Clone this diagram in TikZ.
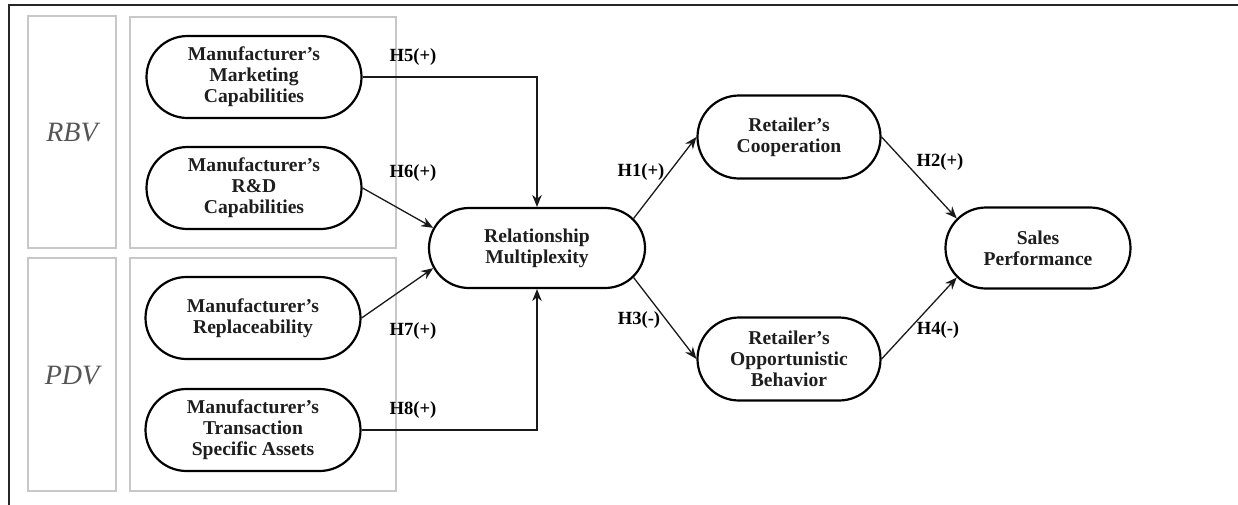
\documentclass[tikz,border=0pt]{standalone}
\usepackage{fontspec}
\setmainfont{Liberation Serif}
\usetikzlibrary{shapes.misc,arrows.meta}
\definecolor{boxgray}{RGB}{200,200,200}
\definecolor{txtgray}{RGB}{85,85,85}
\definecolor{nodetxt}{RGB}{30,30,30}
\begin{document}
\begin{tikzpicture}[x=0.5pt,y=-0.5pt,
  construct/.style={draw=black, line width=1.1pt, rounded rectangle, align=center,
    font=\fontsize{9.8}{10.5}\selectfont\bfseries, text=nodetxt, inner sep=0pt},
  leftc/.style={construct, minimum width=107.5pt, minimum height=41pt},
  groupbox/.style={draw=boxgray, line width=0.8pt},
  viewlbl/.style={font=\fontsize{14}{16}\selectfont\itshape, text=txtgray},
  hlbl/.style={font=\fontsize{9.3}{10}\selectfont\bfseries, text=black, inner sep=0pt},
  arr/.style={draw=black!90, line width=0.65pt, -{Stealth[length=6pt,width=4.8pt]}}]
\useasboundingbox (0,0) rectangle (1238,504);
% outer frame (top and left edges visible)
\draw[line width=1pt, black!85] (9,506) -- (9,5) -- (1240,5);
% view boxes
\draw[groupbox] (28,16) rectangle (116,248);
\draw[groupbox] (130,17) rectangle (396,248);
\draw[groupbox] (28,258) rectangle (116,491);
\draw[groupbox] (130,258) rectangle (396,491);
\node[viewlbl] (rbv) at (72,133) {RBV};
\node[viewlbl] (pdv) at (72,376) {PDV};
% constructs
\node[leftc] (mk) at (254,77) {Manufacturer's\\Marketing\\Capabilities};
\node[leftc] (rd) at (254,188) {Manufacturer's\\R\&D\\Capabilities};
\node[leftc] (rp) at (253,318) {Manufacturer's\\Replaceability};
\node[leftc] (tr) at (253,430) {Manufacturer's\\Transaction\\Specific Assets};
\node[construct, minimum width=108pt, minimum height=40pt] (rm) at (537,248) {Relationship\\Multiplexity};
\node[construct, minimum width=91.5pt, minimum height=41.5pt] (co) at (789,137) {Retailer's\\Cooperation};
\node[construct, minimum width=91.5pt, minimum height=41.5pt] (op) at (789,359) {Retailer's\\Opportunistic\\Behavior};
\node[construct, minimum width=92.5pt, minimum height=40.5pt] (sa) at (1038,248) {Sales\\Performance};
% connectors
\draw[arr] (mk.east) -| (rm.north);
\draw[arr] (rd.east) -- (rm.169);
\draw[arr] (rp.east) -- (rm.191);
\draw[arr] (tr.east) -| (rm.south);
\draw[arr] (rm.17) -- (co.west);
\draw[arr] (rm.343) -- (op.west);
\draw[arr] (co.east) -- (sa.160);
\draw[arr] (op.east) -- (sa.200);
% labels
\node[hlbl] (h5) at (413,57) {H5(+)};
\node[hlbl] (h6) at (413,173) {H6(+)};
\node[hlbl] (h7) at (413,331) {H7(+)};
\node[hlbl] (h8) at (413,410) {H8(+)};
\node[hlbl] (h1) at (641,172) {H1(+)};
\node[hlbl] (h3) at (639,320) {H3(-)};
\node[hlbl] (h2) at (940,162) {H2(+)};
\node[hlbl] (h4) at (938,330) {H4(-)};
\end{tikzpicture}
\end{document}
